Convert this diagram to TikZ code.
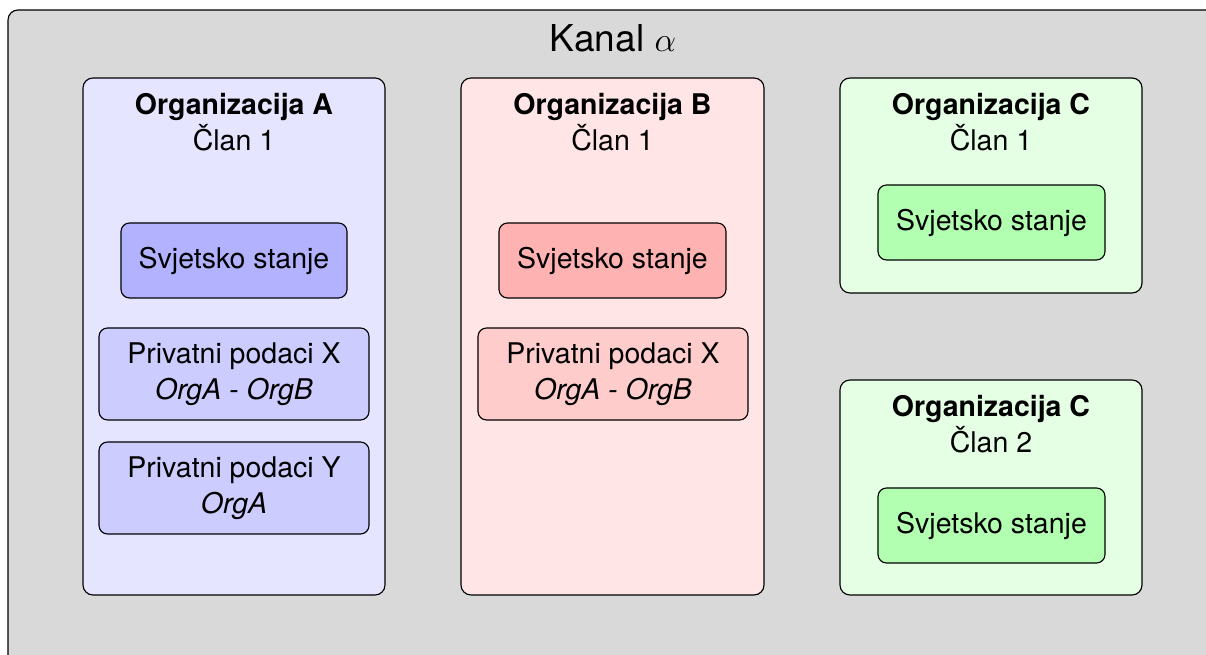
\documentclass[tikz,border=0pt]{standalone}
\usepackage{fontspec}
\setmainfont{TeX Gyre Heros}
\begin{document}
\begin{tikzpicture}[x=0.351pt, y=-0.351pt, font=\fontsize{10}{12.6}\selectfont,
    orgbox/.style={rounded corners=3.5pt},
    databox/.style={rounded corners=3pt}]
    \useasboundingbox (0,0) rectangle (1206,655);
    \clip (0,0) rectangle (1206,655);
    % kanal
    \filldraw[fill=black!15, rounded corners=3.5pt] (8,10) rectangle (1260,720);
    \node (kanal) at (613,38) {\fontsize{13}{15}\selectfont Kanal $\alpha$};
    % organizacija A
    \filldraw[orgbox, fill=blue!10] (83,78) rectangle (385,595);
    \node[align=center] (orgA) at (234,122) {\textbf{Organizacija A}\\Član 1};
    \filldraw[databox, fill=blue!30] (121,223) rectangle (347,298) node[midway] (stateA) {Svjetsko stanje};
    \filldraw[databox, fill=blue!20] (99,328) rectangle (369,420) node[midway,align=center] (privXA) {Privatni podaci X\\\textit{OrgA - OrgB}};
    \filldraw[databox, fill=blue!20] (99,442) rectangle (369,534) node[midway,align=center] (privYA) {Privatni podaci Y\\\textit{OrgA}};
    % organizacija B
    \filldraw[orgbox, fill=red!10] (461,78) rectangle (764,595);
    \node[align=center] (orgB) at (612.5,122) {\textbf{Organizacija B}\\Član 1};
    \filldraw[databox, fill=red!30] (499,223) rectangle (726,298) node[midway] (stateB) {Svjetsko stanje};
    \filldraw[databox, fill=red!20] (478,328) rectangle (748,420) node[midway,align=center] (privXB) {Privatni podaci X\\\textit{OrgA - OrgB}};
    % organizacija C
    \filldraw[orgbox, fill=green!10] (840,78) rectangle (1142,293);
    \node[align=center] (orgC1) at (991,122) {\textbf{Organizacija C}\\Član 1};
    \filldraw[databox, fill=green!30] (878,185) rectangle (1105,260) node[midway] (stateC1) {Svjetsko stanje};
    \filldraw[orgbox, fill=green!10] (840,380) rectangle (1142,595);
    \node[align=center] (orgC2) at (991,424) {\textbf{Organizacija C}\\Član 2};
    \filldraw[databox, fill=green!30] (878,488) rectangle (1105,563) node[midway] (stateC2) {Svjetsko stanje};
\end{tikzpicture}
\end{document}
